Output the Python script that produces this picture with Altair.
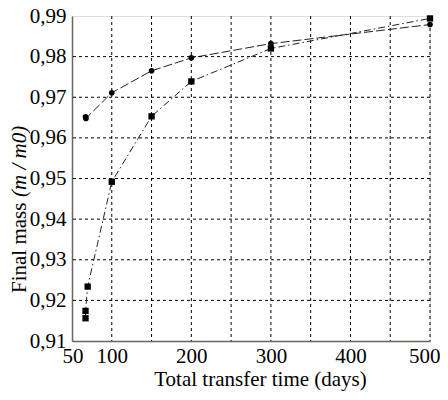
import altair as alt
import pandas as pd

# Series 1: circles, long-dashed line
c_x = [67.0, 67.5, 100, 150, 200, 300, 500]
c_y = [0.9652, 0.9648, 0.9711, 0.9765, 0.9797, 0.9832, 0.9879]
# Series 2: squares, dash-dot line
s_x = [67.0, 67.0, 69.7, 100, 150, 200, 300, 500]
s_y = [0.9156, 0.9174, 0.9234, 0.9492, 0.9653, 0.9739, 0.9820, 0.9894]

x_grid = [100, 150, 200, 250, 300, 350, 400, 450, 500]
x_labels = [50, 100, 200, 300, 400, 500]
y_grid = [0.92, 0.93, 0.94, 0.95, 0.96, 0.97, 0.98]
y_labels = [0.91, 0.92, 0.93, 0.94, 0.95, 0.96, 0.97, 0.98, 0.99]

circ = pd.DataFrame({"x": c_x, "y": c_y, "o": list(range(len(c_x)))})
sq = pd.DataFrame({"x": s_x, "y": s_y, "o": list(range(len(s_x)))})
xg = pd.DataFrame({"x": x_grid})
yg = pd.DataFrame({"y": y_grid})

FONT = "Liberation Serif"

xscale = alt.Scale(domain=[50, 500], nice=False, zero=False)
yscale = alt.Scale(domain=[0.91, 0.99], nice=False, zero=False)

xenc = alt.X("x:Q", scale=xscale,
             axis=alt.Axis(values=x_labels, grid=False, ticks=False,
                           title="Total transfer time (days)",
                           titleX=188, titleY=44, titleBaseline="alphabetic",
                           titleFont=FONT, titleFontSize=21, titleFontWeight="normal",
                           titleColor="black",
                           labelFont=FONT, labelFontSize=21, labelColor="black",
                           labelPadding=4, labelFlush=True, labelFlushOffset=10,
                           labelOverlap=False,
                           domainColor="#666", domainWidth=1.5))
yenc = alt.Y("y:Q", scale=yscale,
             axis=alt.Axis(values=y_labels, grid=False, ticks=False, title=None,
                           labelExpr="replace(format(datum.value, '.2f'), '.', ',')",
                           labelFont=FONT, labelFontSize=21, labelColor="black",
                           labelPadding=6, labelFlush=False, labelOverlap=False,
                           domainColor="#666", domainWidth=1.5))

grid_x = alt.Chart(xg).mark_rule(color="black", strokeWidth=1, strokeDash=[3, 3]).encode(
    x=alt.X("x:Q", scale=xscale))
grid_y = alt.Chart(yg).mark_rule(color="black", strokeWidth=1, strokeDash=[3, 3]).encode(
    y=alt.Y("y:Q", scale=yscale))

line_c = alt.Chart(circ).mark_line(color="#222", strokeWidth=1, strokeDash=[9, 3]).encode(
    x=xenc, y=yenc, order="o:Q")
pts_c = alt.Chart(circ).mark_point(shape="circle", filled=True, color="black", size=32, opacity=1).encode(
    x="x:Q", y="y:Q")
line_s = alt.Chart(sq).mark_line(color="#222", strokeWidth=1, strokeDash=[7, 3, 1.5, 3]).encode(
    x="x:Q", y="y:Q", order="o:Q")
pts_s = alt.Chart(sq).mark_point(shape="square", filled=True, color="black", size=40, opacity=1).encode(
    x="x:Q", y="y:Q")

one = alt.Data(values=[{"a": 1}])
t1 = alt.Chart(one).mark_text(angle=270, align="left", baseline="middle", font=FONT,
                              fontSize=21, color="black").encode(
    x=alt.value(-52), y=alt.value(277), text=alt.value("Final mass "))
t2 = alt.Chart(one).mark_text(angle=270, align="left", baseline="middle", font=FONT,
                              fontSize=21, fontStyle="italic", color="black").encode(
    x=alt.value(-52), y=alt.value(181), text=alt.value("(m / m0)"))

chart = alt.layer(line_c, grid_x, grid_y, line_s, pts_c, pts_s, t1, t2).properties(
    width=358, height=325,
    autosize=alt.AutoSizeParams(type="none"),
    padding={"left": 64, "top": 8, "right": 10, "bottom": 60},
).configure_view(stroke=None).configure(background="white")

chart.save("out.html", embed_options={"renderer": "svg", "actions": False})
